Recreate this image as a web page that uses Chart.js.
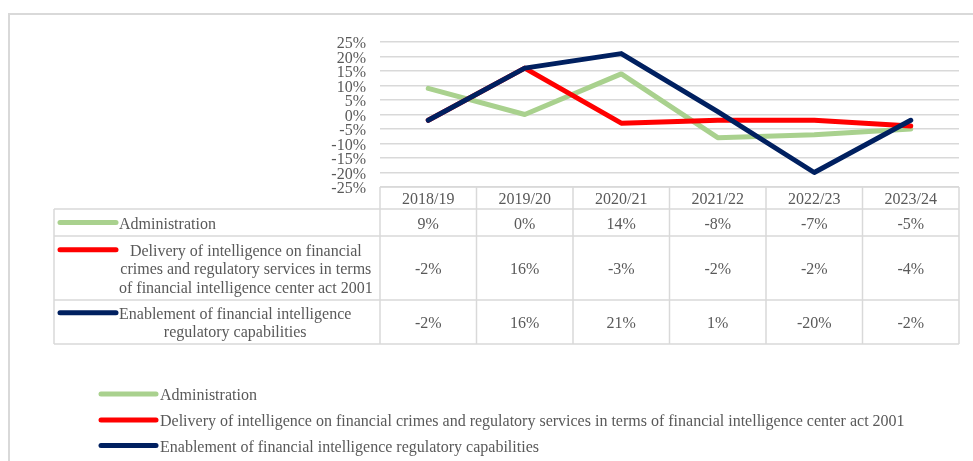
<!DOCTYPE html>
<html>
<head>
<meta charset="utf-8">
<script src="https://cdn.jsdelivr.net/npm/chart.js"></script>
<style>
  html, body { margin: 0; padding: 0; background: #fff; }
  canvas { display: block; }
</style>
</head>
<body>
<canvas id="fundingChart" width="973" height="461"></canvas>
<script>
const years = ['2018/19', '2019/20', '2020/21', '2021/22', '2022/23', '2023/24'];
const programmes = [
  'Administration',
  'Delivery of intelligence on financial crimes and regulatory services in terms of financial intelligence center act 2001',
  'Enablement of financial intelligence regulatory capabilities'
];
// same names, wrapped for the data table
const tableNames = [
  ['Administration'],
  ['Delivery of intelligence on financial', 'crimes and regulatory services in terms', 'of financial intelligence center act 2001'],
  ['Enablement of financial intelligence', 'regulatory capabilities']
];
const administration = [9, 0, 14, -8, -7, -5];
const delivery = [-2, 16, -3, -2, -2, -4];
const enablement = [-2, 16, 21, 1, -20, -2];
const yMin = -25, yMax = 25, yStep = 5;

const colors = ['#A9D18E', '#FF0000', '#002060'];
const seriesValues = [administration, delivery, enablement];
const font = '16px "Liberation Serif", "Times New Roman", serif';
const textColor = '#595959';
const gridColor = '#d9d9d9';
const textShift = 2; // serif 'middle' sits a bit high

function drawSample(ctx, x1, x2, y, color) {
  ctx.strokeStyle = color;
  ctx.lineWidth = 5;
  ctx.lineCap = 'round';
  ctx.beginPath();
  ctx.moveTo(x1, y);
  ctx.lineTo(x2, y);
  ctx.stroke();
}

const tablePlugin = {
  id: 'dataTable',
  beforeDraw(chart) {
    const ctx = chart.ctx;
    ctx.save();
    ctx.fillStyle = '#fff';
    ctx.fillRect(0, 0, chart.width, chart.height);
    // outer frame, runs off the right and bottom edges
    ctx.strokeStyle = gridColor;
    ctx.lineWidth = 2;
    ctx.strokeRect(9, 14, chart.width + 40, chart.height + 40);
    ctx.restore();
  },
  afterDraw(chart) {
    const { ctx, chartArea, scales: { x } } = chart;
    const colW = (chartArea.right - chartArea.left) / years.length;
    const top = chartArea.bottom;
    const rows = [top, top + 22, top + 49, top + 113, top + 157];
    const tableLeft = 54;

    ctx.save();
    ctx.strokeStyle = gridColor;
    ctx.lineWidth = 1.5;
    ctx.beginPath();
    ctx.moveTo(chartArea.left, rows[0]);
    ctx.lineTo(chartArea.right, rows[0]);
    for (let r = 1; r < rows.length; r++) {
      ctx.moveTo(tableLeft, rows[r]);
      ctx.lineTo(chartArea.right, rows[r]);
    }
    for (let i = 0; i <= years.length; i++) {
      const cx = chartArea.left + i * colW;
      ctx.moveTo(cx, rows[0]);
      ctx.lineTo(cx, rows[4]);
    }
    ctx.moveTo(tableLeft, rows[1]);
    ctx.lineTo(tableLeft, rows[4]);
    ctx.stroke();

    ctx.font = font;
    ctx.fillStyle = textColor;
    ctx.textBaseline = 'middle';

    // header row
    ctx.textAlign = 'center';
    years.forEach((yr, i) => {
      ctx.fillText(yr, x.getPixelForValue(i), (rows[0] + rows[1]) / 2 + textShift);
    });

    // one row per programme
    const lineH = 18.3;
    seriesValues.forEach((vals, s) => {
      const mid = (rows[s + 1] + rows[s + 2]) / 2;
      vals.forEach((v, i) => {
        ctx.textAlign = 'center';
        ctx.fillText(v + '%', x.getPixelForValue(i), mid + textShift);
      });
      const lines = tableNames[s];
      const maxW = Math.max(...lines.map(l => ctx.measureText(l).width));
      const firstY = mid - (lines.length - 1) * lineH / 2;
      lines.forEach((l, k) => {
        ctx.fillText(l, 119 + maxW / 2, firstY + k * lineH + textShift);
      });
      drawSample(ctx, 60, 116, firstY, colors[s]);
    });

    // legend below the table
    const legendY = [394, 420, 445.5];
    ctx.textAlign = 'left';
    programmes.forEach((name, s) => {
      drawSample(ctx, 101, 156, legendY[s], colors[s]);
      ctx.fillStyle = textColor;
      ctx.fillText(name, 160, legendY[s] + textShift);
    });
    ctx.restore();
  }
};

new Chart('fundingChart', {
  type: 'line',
  data: {
    labels: years,
    datasets: programmes.map((name, s) => ({
      label: name,
      data: seriesValues[s],
      borderColor: colors[s],
      borderWidth: 5,
      pointRadius: 0,
      tension: 0,
      borderJoinStyle: 'round',
      borderCapStyle: 'round',
      order: 3 - s
    }))
  },
  options: {
    responsive: false,
    animation: false,
    devicePixelRatio: 1,
    layout: { padding: { left: 0, right: 14, top: 42, bottom: 274 } },
    plugins: { legend: { display: false }, tooltip: { enabled: false } },
    scales: {
      x: { display: false, offset: true },
      y: {
        min: yMin,
        max: yMax,
        afterFit: scale => { scale.width = 380; },
        border: { display: false },
        grid: { color: gridColor, lineWidth: 1.5, drawTicks: false },
        ticks: {
          stepSize: yStep,
          autoSkip: false,
          padding: 14,
          labelOffset: 2,
          color: textColor,
          font: { family: '"Liberation Serif", "Times New Roman", serif', size: 16 },
          callback: v => v + '%'
        }
      }
    }
  },
  plugins: [tablePlugin]
});
</script>
</body>
</html>
